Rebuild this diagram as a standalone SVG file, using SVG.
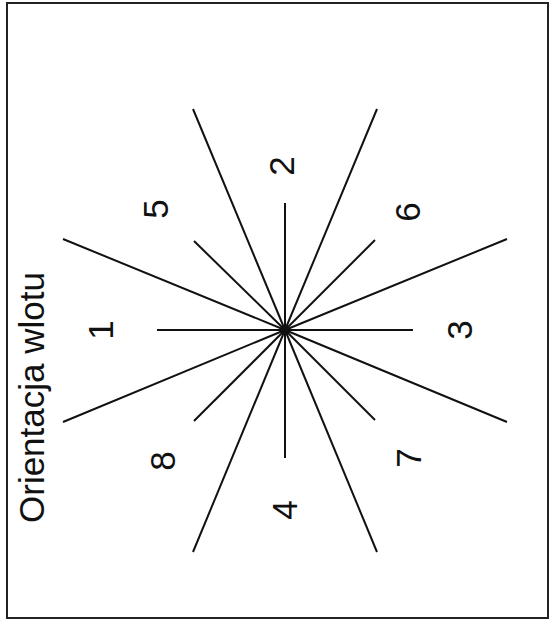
<svg xmlns="http://www.w3.org/2000/svg" width="550" height="623" viewBox="0 0 550 623">
<style>
.ray{stroke:#111;stroke-width:2;stroke-linecap:butt;fill:none}
.lbl{font-family:"Liberation Sans",Arial,sans-serif;font-size:35px;fill:#111;text-anchor:middle}
.title{font-family:"Liberation Sans",Arial,sans-serif;font-size:35px;fill:#111}
</style>
<rect width="550" height="623" fill="#fff"/>
<rect id="frame" x="7" y="3" width="541" height="615" fill="none" stroke="#222" stroke-width="2"/>
<g id="title"><text class="title" transform="translate(44,523) rotate(-90)">Orientacja wlotu</text></g>
<g id="connectors">
<line class="ray" x1="285" y1="330" x2="193" y2="109"/>
<line class="ray" x1="285" y1="330" x2="377" y2="109"/>
<line class="ray" x1="285" y1="330" x2="63" y2="239"/>
<line class="ray" x1="285" y1="330" x2="507" y2="239"/>
<line class="ray" x1="285" y1="330" x2="63" y2="422"/>
<line class="ray" x1="285" y1="330" x2="507" y2="422"/>
<line class="ray" x1="285" y1="330" x2="193" y2="552"/>
<line class="ray" x1="285" y1="330" x2="377" y2="552"/>
<line class="ray" x1="285" y1="330" x2="194" y2="241"/>
<line class="ray" x1="285" y1="330" x2="375" y2="240"/>
<line class="ray" x1="285" y1="330" x2="194" y2="421"/>
<line class="ray" x1="285" y1="330" x2="375" y2="420"/>
<line class="ray" x1="285" y1="203" x2="285" y2="458"/>
<line class="ray" x1="157" y1="330" x2="413" y2="330"/>
</g>
<g id="center"><circle cx="285" cy="330" r="4.5" fill="#111"/></g>
<g id="n1"><text class="lbl" transform="translate(113,330) rotate(-90)">1</text></g>
<g id="n2"><text class="lbl" transform="translate(294,166) rotate(-90)">2</text></g>
<g id="n3"><text class="lbl" transform="translate(472,330) rotate(-90)">3</text></g>
<g id="n4"><text class="lbl" transform="translate(297,510) rotate(-90)">4</text></g>
<g id="n5"><text class="lbl" transform="translate(168,209) rotate(-90)">5</text></g>
<g id="n6"><text class="lbl" transform="translate(420,212) rotate(-90)">6</text></g>
<g id="n7"><text class="lbl" transform="translate(421,458) rotate(-90)">7</text></g>
<g id="n8"><text class="lbl" transform="translate(175,461) rotate(-90)">8</text></g>
</svg>
